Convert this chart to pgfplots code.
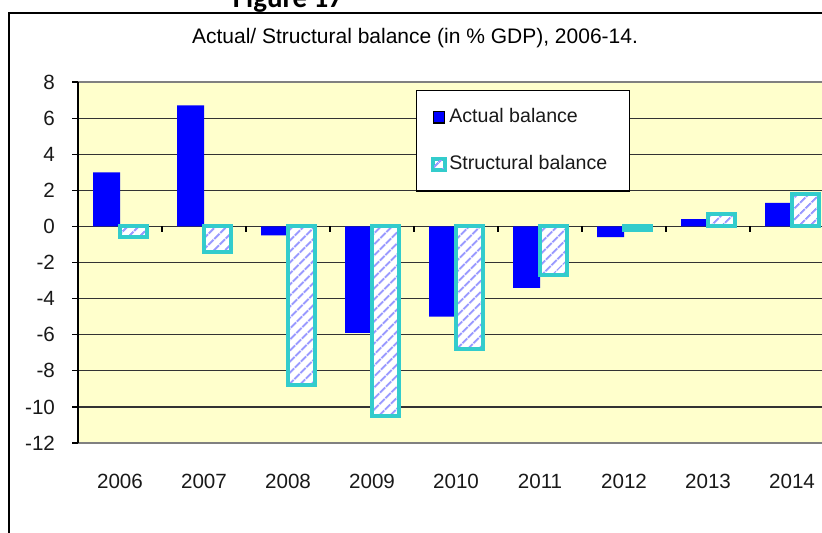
\documentclass[border=0pt]{standalone}
\usepackage{pgfplots}
\pgfplotsset{compat=1.18}
\usepackage{fontspec}
\setmainfont{Liberation Sans}
\newfontfamily\calibri{Carlito}
\usetikzlibrary{patterns.meta}
\definecolor{bgy}{HTML}{FFFFCC}
\definecolor{actb}{HTML}{0000FF}
\definecolor{strb}{HTML}{33CCCC}
\definecolor{strp}{HTML}{9999FF}
\definecolor{gridg}{HTML}{333333}
\begin{document}
\begin{tikzpicture}
\useasboundingbox (0pt,0pt) rectangle (411pt,266pt);
\clip (0pt,0pt) rectangle (411pt,266pt);
\fill[white] (0pt,0pt) rectangle (411pt,266pt);
\draw[black, line width=0.6pt] (4.5pt,-5pt) rectangle (420pt,259.5pt);
\node[font=\calibri\bfseries\fontsize{14.5}{16}\selectfont, anchor=base] at (144pt,262pt) {Figure 17};
\node[font=\fontsize{10.5}{12}\selectfont, text=black] at (207.5pt,247pt) {Actual/ Structural balance (in \% GDP), 2006-14.};
\begin{axis}[
  at={(39pt,44.5pt)}, anchor=south west,
  scale only axis, width=378pt, height=180.5pt,
  xmin=-0.5, xmax=8.5, ymin=-12, ymax=8,
  ytick={-12,-10,...,8},
  xtick={0,...,8}, xticklabels={2006,2007,2008,2009,2010,2011,2012,2013,2014},
  /pgf/number format/assume math mode=true,
  tick label style={font=\fontsize{10.3}{12}\selectfont, text=black!90},
  xticklabel style={yshift=-9pt},
  yticklabel style={xshift=-5pt},
  axis background/.style={fill=bgy},
  ybar=0pt, bar width=13.5pt,
  ymajorgrids, grid style={gridg, line width=0.6pt},
  separate axis lines,
  x axis line style={draw=gray, line width=1pt},
  y axis line style={draw=black, line width=1.2pt},
  tick align=outside, major tick length=3pt,
  ytick style={black, line width=0.6pt},
  xtick style={draw=none},
  legend image code/.code={\draw[#1, line width=0.8pt] (0pt,-2.8pt) rectangle (5.6pt,2.8pt);},
  legend style={at={(0.447,0.978)}, anchor=north west, draw=black, line width=0.6pt,
    fill=white, inner xsep=8pt, inner ysep=7pt, row sep=11pt,
    cells={anchor=west}, font=\fontsize{9.8}{11}\selectfont, text=black!90},
]
\addplot[fill=actb, draw=none] coordinates {(0,3.0) (1,6.7) (2,-0.5) (3,-5.9) (4,-5.0) (5,-3.4) (6,-0.6) (7,0.4) (8,1.3)};
\addlegendentry{\makebox[80pt][l]{Actual balance}}
\addplot[draw=strb, line width=2pt, preaction={fill=white}, pattern={Lines[angle=45, distance=4pt, line width=1.1pt]}, pattern color=strp] coordinates {(0,-0.6) (1,-1.4) (2,-8.8) (3,-10.5) (4,-6.8) (5,-2.7) (6,-0.2) (7,0.7) (8,1.8)};
\addlegendentry{\makebox[80pt][l]{Structural balance}}
\pgfplotsinvokeforeach{0.5,1.5,2.5,3.5,4.5,5.5,6.5,7.5}{\draw[black, line width=0.6pt] (axis cs:#1,0) -- ++(0pt,-3pt);}
\end{axis}
\end{tikzpicture}
\end{document}
